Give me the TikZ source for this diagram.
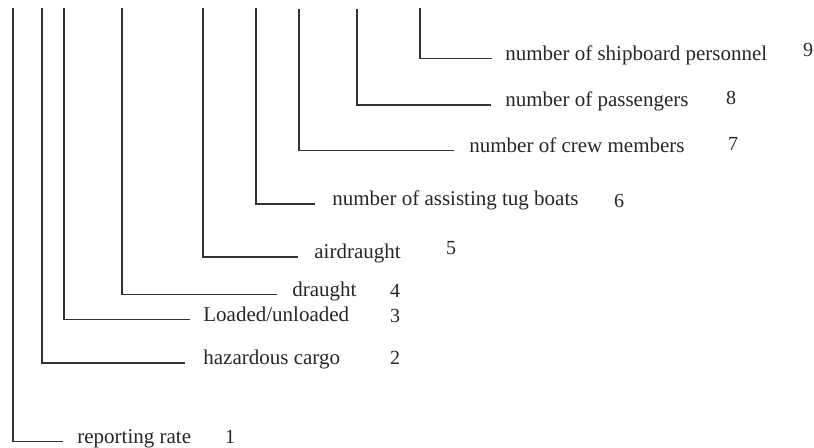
\documentclass[tikz,border=0pt]{standalone}
\usepackage{fontspec}
\setmainfont{Liberation Serif}
\begin{document}
\begin{tikzpicture}[x=0.5pt, y=-0.5pt, font=\fontsize{10.5}{12.5}\selectfont, line cap=butt]
			\tikzset{lead/.style={draw=black!80, line width=0.6pt},
				item/.style={anchor=base west, inner sep=0pt, text=black!85},
				num/.style={anchor=base, inner sep=0pt, text=black!85, font=\fontsize{10}{12}\selectfont}}
			\useasboundingbox (0,0) rectangle (814,448);
			% index / x / top / line y / line end / text x / number x / number baseline / label
			\foreach \i/\x/\t/\y/\e/\s/\n/\b/\txt in {
				1/13/8/441.5/63/77/230/443.5/{reporting rate},
				2/42/8/363/185/203/395/365/{hazardous cargo},
				3/64/8/319.5/190/203/395/323/{Loaded/unloaded},
				4/122/8/294.5/277/292/395/298/{draught},
				5/203/8/257/298/314/451/255/{airdraught},
				6/256/8/204/315/332/619/208/{number of assisting tug boats},
				7/299/9/150.5/454/469/733/150.5/{number of crew members},
				8/357/9/105/491/505/731/105/{number of passengers},
				9/420/8/58.5/492/505/808/57/{number of shipboard personnel}}{
				\coordinate (t\i) at (\x,\t);
				\coordinate (e\i) at (\e,\y);
				\node[item] (l\i) at (\s,\y+2) {\txt};
				\node[num] (n\i) at (\n,\b) {\i};
				\draw[lead] (t\i) |- (e\i);
			}
		\end{tikzpicture}
\end{document}
